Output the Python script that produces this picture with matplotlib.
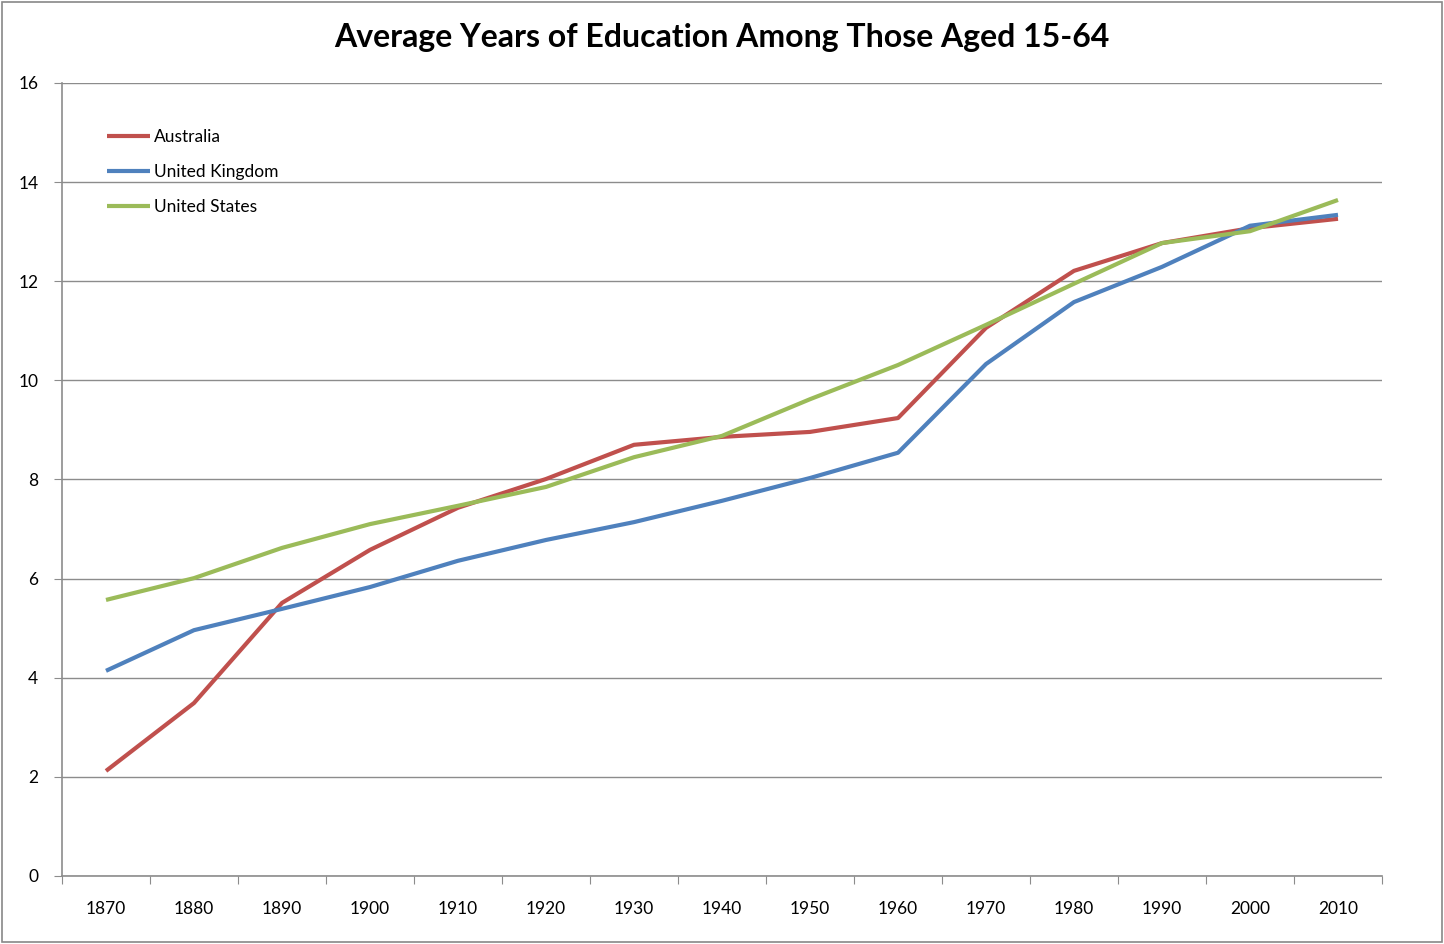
import matplotlib
matplotlib.use("Agg")
import matplotlib.pyplot as plt
from matplotlib.patches import Rectangle

years = ["1870", "1880", "1890", "1900", "1910", "1920", "1930", "1940",
         "1950", "1960", "1970", "1980", "1990", "2000", "2010"]
australia = [2.12, 3.49, 5.51, 6.58, 7.43, 8.01, 8.70, 8.86, 8.96, 9.24,
             11.06, 12.21, 12.77, 13.07, 13.26]
united_kingdom = [4.14, 4.96, 5.39, 5.83, 6.36, 6.78, 7.14, 7.57, 8.03, 8.54,
                  10.33, 11.58, 12.29, 13.12, 13.34]
united_states = [5.57, 6.01, 6.62, 7.10, 7.47, 7.85, 8.45, 8.88, 9.62, 10.31,
                 11.12, 11.95, 12.77, 13.01, 13.64]
series_names = ["Australia", "United Kingdom", "United States"]
colors = ["#C0504D", "#4F81BD", "#9BBB59"]
y_ticks = [0, 2, 4, 6, 8, 10, 12, 14, 16]

plt.rcParams['font.family'] = ['Lato', 'DejaVu Sans']

fig = plt.figure(figsize=(14.44, 9.44), dpi=100)
fig.patches.append(Rectangle((0.0015, 0.002), 0.997, 0.996, transform=fig.transFigure,
                             fill=False, edgecolor="#888888", linewidth=1.2))
ax = fig.add_axes([62/1444, 68/944, 1320/1444, 793/944])

x = list(range(len(years)))
for vals, name, c in zip([australia, united_kingdom, united_states], series_names, colors):
    ax.plot(x, vals, color=c, linewidth=3.0, label=name, solid_capstyle='butt')

ax.set_xlim(-0.5, len(years) - 0.5)
ax.set_ylim(0, 16)
ax.set_yticks(y_ticks)
ax.set_yticklabels([str(v) for v in y_ticks], fontsize=12.5)
ax.yaxis.grid(True, color="#8c8c8c", linewidth=1.0)
ax.set_axisbelow(True)

ax.set_xticks([i - 0.5 for i in range(len(years) + 1)])
ax.set_xticklabels([])
ax.set_xticks(x, minor=True)
ax.set_xticklabels(years, minor=True, fontsize=12.5)
ax.tick_params(axis='x', which='minor', length=0, pad=18)
ax.tick_params(axis='x', which='major', length=6, color="#8c8c8c", direction='out')
ax.tick_params(axis='y', length=6, color="#8c8c8c", direction='out', pad=11)

for s in ["top", "right"]:
    ax.spines[s].set_visible(False)
for s in ["left", "bottom"]:
    ax.spines[s].set_color("#8c8c8c")
    ax.spines[s].set_linewidth(1.2)

fig.text(722/1444, 1 - 38/944, "Average Years of Education Among Those Aged 15-64",
         ha='center', va='center', fontsize=23, fontweight='bold')

leg = ax.legend(loc='upper left', bbox_to_anchor=(0.029, 0.951), frameon=False,
                fontsize=12.5, handlelength=2.45, handletextpad=0.25, labelspacing=1.1,
                borderaxespad=0)

fig.savefig("out.png", dpi=100)
